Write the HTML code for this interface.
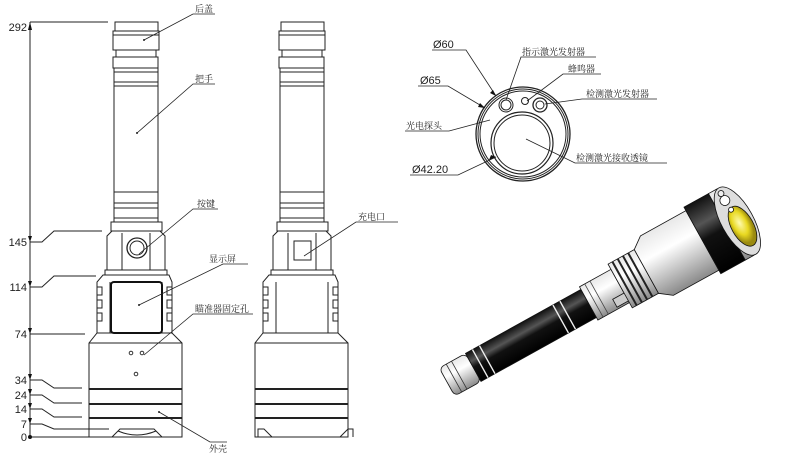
<!DOCTYPE html>
<html><head><meta charset="utf-8"><style>
html,body{margin:0;padding:0;background:#fff;}
svg{display:block;}
text{font-family:"Liberation Sans","Noto Sans CJK SC",sans-serif;}
.cn{font-family:"Noto Serif CJK SC","Noto Sans CJK SC",serif;font-size:9px;fill:#222;}
</style></head><body>
<svg width="800" height="462" viewBox="0 0 800 462" xmlns="http://www.w3.org/2000/svg">
<defs>
<g id="body" fill="#fff" stroke="#222" stroke-width="1">
  <rect x="115" y="22" width="43" height="9"/>
  <rect x="113" y="31" width="46" height="19"/>
  <line x1="113" y1="35" x2="159" y2="35"/>
  <rect x="116" y="50" width="40" height="7"/>
  <rect x="113" y="57" width="45" height="11"/>
  <rect x="114" y="68" width="44" height="18"/>
  <line x1="114" y1="72" x2="158" y2="72"/><line x1="114" y1="82" x2="158" y2="82"/>
  <rect x="114" y="86" width="44" height="106"/>
  <rect x="114" y="192" width="44" height="30"/>
  <line x1="114" y1="203" x2="158" y2="203"/><line x1="114" y1="208" x2="158" y2="208"/><line x1="114" y1="218" x2="158" y2="218"/>
  <rect x="111" y="222" width="51" height="9"/>
  <polygon points="107,236 112,231 160,231 165,236 165,270 107,270"/>
  <line x1="122" y1="233" x2="122" y2="270"/><line x1="150" y1="233" x2="150" y2="270"/>
  <rect x="105" y="270" width="62" height="5"/>
  <polygon points="103,275 169,275 172,282 172,333 97,333 97,282"/>
  <path d="M97,287 h5 v8 h-5 M97,300 h5 v8 h-5 M97,313 h5 v8 h-5 M172,287 h-5 v8 h5 M172,300 h-5 v8 h5 M172,313 h-5 v8 h5" fill="none"/>
  <line x1="110" y1="282" x2="110" y2="333"/><line x1="162" y1="282" x2="162" y2="333"/>
  <polygon points="97,333 172,333 182,343 182,437 89,437 89,343"/>
  <line x1="89" y1="343" x2="182" y2="343"/>
  <line x1="89" y1="389" x2="182" y2="389" stroke-width="2"/>
  <line x1="89" y1="404" x2="182" y2="404" stroke-width="2"/>
  <line x1="89" y1="418" x2="182" y2="418" stroke-width="2"/>
</g>
</defs>

<use href="#body"/>
<circle cx="137" cy="248" r="10" fill="none" stroke="#222" stroke-width="1.3"/>
<circle cx="137" cy="248" r="7" fill="none" stroke="#222"/>
<rect x="111" y="282" width="51" height="51" rx="3" fill="#fff" stroke="#111" stroke-width="2"/>
<circle cx="131" cy="353" r="1.8" fill="none" stroke="#333"/>
<circle cx="142" cy="353" r="1.8" fill="none" stroke="#333"/>
<circle cx="136" cy="374" r="1.8" fill="none" stroke="#333"/>
<path d="M112,437 l8,-8 h34 l8,8" fill="none" stroke="#222"/>
<path d="M118,431 q19,8 38,0" fill="none" stroke="#222"/>

<use href="#body" x="166"/>
<rect x="294" y="241" width="17" height="19" fill="none" stroke="#222"/>
<path d="M258,437 v-8 h6 l8,8 M340,437 l8,-8 h5 v8" fill="none" stroke="#222"/>

<g stroke="#222" fill="none" stroke-width="1">
<line x1="30" y1="22" x2="30" y2="437"/>
<line x1="30" y1="22" x2="108" y2="22"/>
<path d="M30,242 h12 l12,-11 h48"/>
<path d="M30,287 h12 l12,-11 h42"/>
<path d="M30,334 h55"/>
<path d="M30,380 h12 l12,8 h28"/>
<path d="M30,395 h12 l12,8 h28"/>
<path d="M30,409 h12 l12,8 h28"/>
<path d="M30,424 h12 l12,5 h55"/>
<line x1="30" y1="437" x2="89" y2="437"/>
</g>
<g fill="#111">
<polygon points="30,22 28,30 32,30"/>
<polygon points="30,242 28,236 32,236"/><polygon points="30,287 28,281 32,281"/>
<polygon points="30,334 28,328 32,328"/><polygon points="30,380 28,374 32,374"/>
<polygon points="30,395 28,389 32,389"/><polygon points="30,409 28,403 32,403"/>
<polygon points="30,424 28,418 32,418"/><circle cx="30" cy="437" r="2"/>
</g>
<g font-size="11" fill="#222" text-anchor="end">
<text x="27" y="31">292</text><text x="27" y="246">145</text><text x="27" y="291">114</text>
<text x="27" y="338">74</text><text x="27" y="384">34</text><text x="27" y="399">24</text>
<text x="27" y="413">14</text><text x="27" y="428">7</text><text x="27" y="441">0</text>
</g>

<g stroke="#222" fill="none" stroke-width="0.8">
<path d="M144,40 L193,14 h22"/>
<path d="M137,133 L193,84 h22"/>
<path d="M139,254 L193,209 h25"/>
<path d="M139,305 L223,264 h25"/>
<path d="M144,355 L193,314 h60"/>
<path d="M159,412 L210,442 h17"/>
<path d="M304,256 L356,222 h42"/>
</g>
<circle cx="144" cy="40" r="1" fill="#222"/><circle cx="137" cy="133" r="1" fill="#222"/>
<circle cx="139" cy="305" r="1" fill="#222"/><circle cx="159" cy="412" r="1" fill="#222"/>
<text class="cn" x="195" y="12">后盖</text>
<text class="cn" x="195" y="82">把手</text>
<text class="cn" x="197" y="207">按键</text>
<text class="cn" x="209" y="262">显示屏</text>
<text class="cn" x="195" y="312">瞄准器固定孔</text>
<text class="cn" x="209" y="452">外壳</text>
<text class="cn" x="358" y="220">充电口</text>

<g fill="none" stroke="#222">
<circle cx="523" cy="134" r="47" stroke-width="1.3"/>
<circle cx="523" cy="134" r="45"/>
<circle cx="523" cy="134" r="43"/>
<circle cx="522" cy="143" r="31" stroke-width="1.2"/>
<circle cx="522" cy="143" r="28"/>
<circle cx="506" cy="105" r="7"/><circle cx="506" cy="105" r="5"/>
<circle cx="525" cy="101" r="3.5"/>
<circle cx="540" cy="105" r="7" stroke-width="1.3"/><circle cx="540" cy="105" r="4"/>
</g>
<g stroke="#222" fill="none" stroke-width="0.8">
<path d="M432,50 h34 L496,96"/>
<path d="M418,86 h30 L485,108"/>
<path d="M405,131 h44 L490,120"/>
<path d="M410,175 h48 L496,157"/>
<path d="M506,100 L521,57 h75"/>
<path d="M527,101 L563,74 h38"/>
<path d="M545,104 L582,99 h75"/>
<path d="M526,139 L575,163 h92"/>
</g>
<g fill="#111"><polygon points="496,96 490,93 493,90"/><polygon points="485,108 478,107 480,103"/><polygon points="496,157 489,160 491,155"/></g>
<g font-size="11" fill="#222">
<text x="433" y="48">Ø60</text><text x="420" y="84">Ø65</text><text x="412" y="173">Ø42.20</text>
</g>
<text class="cn" x="522" y="55">指示激光发射器</text>
<text class="cn" x="568" y="72">蜂鸣器</text>
<text class="cn" x="586" y="97">检测激光发射器</text>
<text class="cn" x="406" y="129">光电探头</text>
<text class="cn" x="576" y="161">检测激光接收透镜</text>

<defs>
<linearGradient id="sil" x1="0" y1="0" x2="0" y2="1">
<stop offset="0" stop-color="#e8e8e8"/><stop offset="0.35" stop-color="#fff"/><stop offset="1" stop-color="#8a8a8a"/>
</linearGradient>
<linearGradient id="blk" x1="0" y1="0" x2="0" y2="1">
<stop offset="0" stop-color="#111"/><stop offset="0.3" stop-color="#555"/><stop offset="0.5" stop-color="#111"/><stop offset="1" stop-color="#000"/>
</linearGradient>
<radialGradient id="lens" cx="0.45" cy="0.4"><stop offset="0" stop-color="#fffbb0"/><stop offset="0.6" stop-color="#e8d820"/><stop offset="1" stop-color="#9a8a10"/></radialGradient>
</defs>
<g transform="translate(447,382) rotate(-29)" stroke="#111" stroke-width="0.8">
<rect x="0" y="-16" width="30" height="32" rx="5" fill="url(#sil)"/>
<path d="M8,-16 v32 M14,-16 v32" stroke="#333"/>
<rect x="30" y="-16" width="132" height="32" fill="url(#blk)"/>
<path d="M38,-16 v32 M46,-16 v32 M130,-16 v32 M138,-16 v32" stroke="#eee" stroke-width="1.4"/>
<rect x="162" y="-19" width="36" height="38" fill="url(#sil)"/>
<path d="M168,-19 v38 M174,-19 v38" stroke="#444"/>
<rect x="185" y="8" width="14" height="9" fill="#ccc"/>
<rect x="198" y="-25" width="30" height="50" fill="url(#sil)"/>
<path d="M203,-25 v50 M209,-25 v50 M215,-25 v50 M221,-25 v50" stroke="#222" stroke-width="2"/>
<path d="M228,-25 L240,-34 h52 v68 h-52 L228,25 z" fill="url(#sil)"/>
<rect x="292" y="-38" width="28" height="76" fill="url(#blk)"/>
<rect x="320" y="-38" width="10" height="76" fill="url(#sil)"/>
<ellipse cx="332" cy="0" rx="16" ry="38" fill="#ddd"/>
<ellipse cx="334" cy="7" rx="11" ry="22" fill="url(#lens)"/>
<circle cx="331" cy="-24" r="5" fill="#fff"/><circle cx="332" cy="-13" r="2.5" fill="#fff"/><circle cx="331" cy="-32" r="3" fill="#eee"/>
</g>
</svg>
</body></html>
